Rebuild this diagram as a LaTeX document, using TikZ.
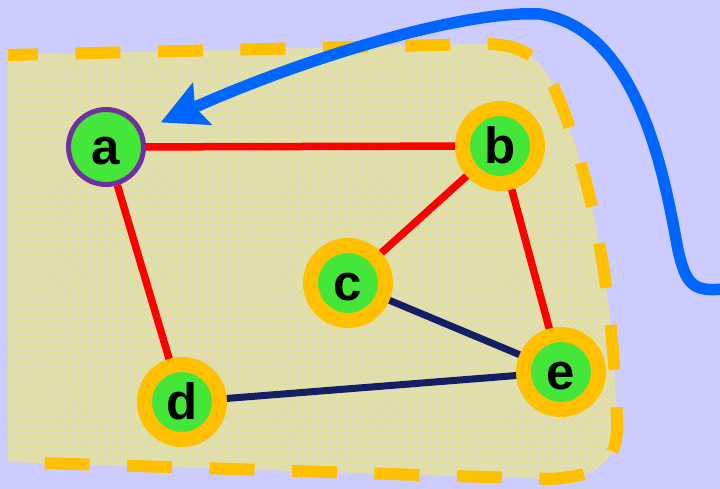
\documentclass[tikz,border=0pt]{standalone}
\usepackage{fontspec}
\setmainfont{Liberation Sans}
\usetikzlibrary{arrows.meta,patterns}
\definecolor{lavenderBack}{RGB}{204,204,255}
\definecolor{regionGray}{RGB}{222,220,182}
\definecolor{regionDots}{RGB}{245,240,100}
\definecolor{ringOrange}{RGB}{255,192,0}
\definecolor{vertexGreen}{RGB}{68,230,58}
\definecolor{startPurple}{RGB}{112,48,160}
\definecolor{edgeRed}{RGB}{255,0,0}
\definecolor{edgeNavy}{RGB}{20,30,100}
\definecolor{arrowBlue}{RGB}{0,102,255}
\tikzset{
  vertex/.style={circle, minimum size=1.5cm, inner sep=0pt, fill=vertexGreen, text height=20pt, text depth=0pt, font=\fontsize{29}{30}\selectfont\bfseries},
  ringvertex/.style={vertex, draw=ringOrange, line width=3mm, outer sep=1.5mm},
  startvertex/.style={vertex, draw=startPurple, line width=1mm},
  rededge/.style={draw=edgeRed, line width=1.5mm},
  navyedge/.style={draw=edgeNavy, line width=1.4mm},
  regionfill/.style={fill=regionGray, postaction={pattern=crosshatch dots, pattern color=regionDots}},
  regionborder/.style={draw=ringOrange, line width=2.4mm, dash pattern=on 9mm off 7.5mm, dash phase=3mm},
  bluearrow/.style={draw=arrowBlue, line width=2.3mm, -{Stealth[length=9mm, width=9mm, inset=1.5mm]}}
}
\begin{document}
\begin{tikzpicture}[x=0.02cm, y=-0.02cm]
  \useasboundingbox (0,0) rectangle (720,489);
  \fill[lavenderBack] (0,0) rectangle (720,489);
  % shaded region
  \path[regionfill] (8,55) -- (480,44) .. controls (520,43) and (540,55) .. (555,90)
    .. controls (590,170) and (612,280) .. (617,420) .. controls (619,462) and (600,476) .. (550,479)
    -- (8,462) -- cycle;
  \draw[regionborder] (8,55) -- (480,44) .. controls (520,43) and (540,55) .. (555,90)
    .. controls (590,170) and (612,280) .. (617,420) .. controls (619,462) and (600,476) .. (550,479)
    -- (8,462);
  % vertices
  \node[startvertex] (a) at (106,147) {a};
  \node[ringvertex] (b) at (500,146) {b};
  \node[ringvertex] (c) at (348,283) {c};
  \node[ringvertex] (d) at (182,402) {d};
  \node[ringvertex] (e) at (561,372) {e};
  \draw[rededge] (a) -- (b);
  \draw[rededge] (a) -- (d);
  \draw[rededge] (b) -- (c);
  \draw[rededge] (b) -- (e);
  \draw[navyedge] (c) -- (e);
  \draw[navyedge] (d) -- (e);
  % incoming arrow
  \coordinate (arrowstart) at (724,289);
  \draw[bluearrow, shorten >=4mm] (arrowstart) .. controls (692,292) and (686,284) .. (678,250)
    .. controls (665,180) and (640,30) .. (540,14) .. controls (460,10) and (300,60) .. (a);
\end{tikzpicture}
\end{document}
